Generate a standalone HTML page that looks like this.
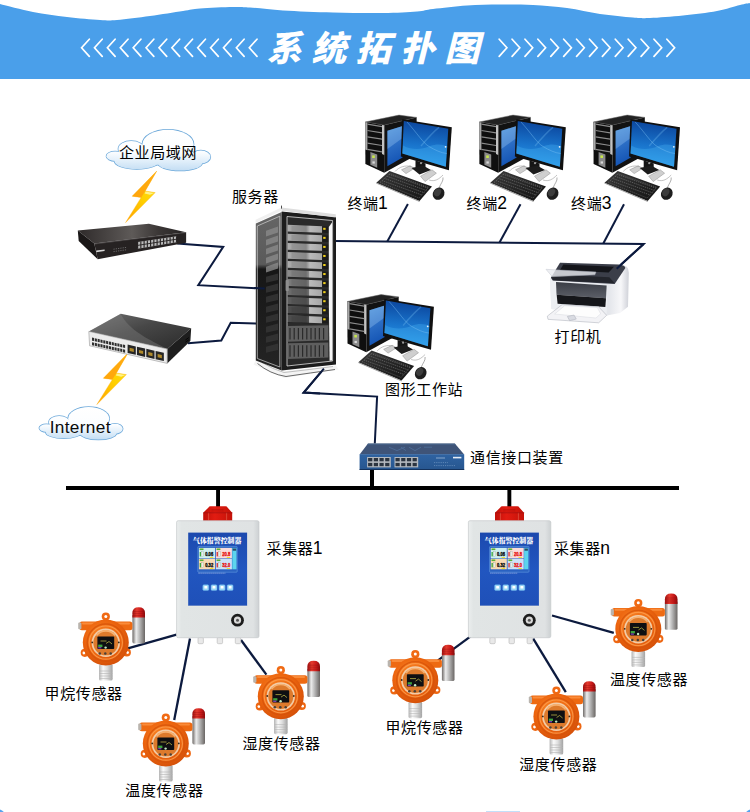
<!DOCTYPE html>
<html lang="zh-CN">
<head>
<meta charset="utf-8">
<title>系统拓扑图</title>
<style>
html,body{margin:0;padding:0;background:#fff;}
body{width:750px;height:812px;overflow:hidden;position:relative;font-family:"Liberation Sans","Noto Sans CJK SC",sans-serif;}
svg{position:absolute;left:0;top:0;display:block;}
text{font-family:"Liberation Sans","Noto Sans CJK SC",sans-serif;}
.lb{font-size:15px;fill:#000;font-weight:400;letter-spacing:0.65px;}
.ttl{font-size:35px;font-weight:900;font-style:italic;fill:#fff;letter-spacing:9.45px;}
</style>
</head>
<body>
<svg width="750" height="812" viewBox="0 0 750 812">
<defs>


<linearGradient id="gBolt" x1="1" y1="0" x2="0" y2="1">
  <stop offset="0" stop-color="#ffe21a"/><stop offset="0.5" stop-color="#ffd000"/><stop offset="1" stop-color="#ffa000"/>
</linearGradient>
<linearGradient id="gCloudL" gradientUnits="userSpaceOnUse" x1="0" y1="0" x2="0" y2="41">
  <stop offset="0" stop-color="#ffffff"/><stop offset="0.55" stop-color="#fbfdff"/><stop offset="0.8" stop-color="#dcecf9"/><stop offset="1" stop-color="#c3ddf3"/>
</linearGradient>
<radialGradient id="gCloud" cx="0.5" cy="0.45" r="0.65">
  <stop offset="0" stop-color="#ffffff"/><stop offset="0.6" stop-color="#f2f8fd"/><stop offset="1" stop-color="#c6def3"/>
</radialGradient>
<linearGradient id="gScreen" x1="0.1" y1="0" x2="0" y2="1">
  <stop offset="0" stop-color="#0c479e"/><stop offset="0.5" stop-color="#1974cc"/><stop offset="1" stop-color="#2ba0ee"/>
</linearGradient>
<linearGradient id="gWin" x1="0" y1="0" x2="0.2" y2="1">
  <stop offset="0" stop-color="#4a92dc"/><stop offset="0.55" stop-color="#2a6cc4"/><stop offset="1" stop-color="#1454b4"/>
</linearGradient>
<linearGradient id="gMetal" x1="0" y1="0" x2="1" y2="0">
  <stop offset="0" stop-color="#6e6a68"/><stop offset="0.3" stop-color="#ececec"/><stop offset="0.55" stop-color="#bdbdbd"/><stop offset="1" stop-color="#6a6664"/>
</linearGradient>
<linearGradient id="gMetalL" x1="0" y1="0" x2="1" y2="0">
  <stop offset="0" stop-color="#b5b5b5"/><stop offset="0.3" stop-color="#fafafa"/><stop offset="0.6" stop-color="#dedede"/><stop offset="1" stop-color="#a2a2a2"/>
</linearGradient>
<linearGradient id="gRedDome" x1="0" y1="0" x2="1" y2="0">
  <stop offset="0" stop-color="#a01010"/><stop offset="0.35" stop-color="#e43a2e"/><stop offset="0.7" stop-color="#c81a1a"/><stop offset="1" stop-color="#8a0c0c"/>
</linearGradient>
<radialGradient id="gOrange" cx="0.42" cy="0.38" r="0.7">
  <stop offset="0" stop-color="#fb8c2c"/><stop offset="0.55" stop-color="#ec640e"/><stop offset="1" stop-color="#cf4c08"/>
</radialGradient>
<linearGradient id="gBox" x1="0" y1="0" x2="1" y2="0">
  <stop offset="0" stop-color="#ebeeee"/><stop offset="0.06" stop-color="#e1e5e5"/><stop offset="0.93" stop-color="#dfe2e3"/><stop offset="1" stop-color="#cdd1d3"/>
</linearGradient>
<linearGradient id="gPanel" x1="0" y1="0" x2="0" y2="1">
  <stop offset="0" stop-color="#1c49ae"/><stop offset="0.5" stop-color="#2156c0"/><stop offset="1" stop-color="#1f50b8"/>
</linearGradient>
<linearGradient id="gRedCap" x1="0" y1="0" x2="1" y2="0">
  <stop offset="0" stop-color="#c01008"/><stop offset="0.4" stop-color="#e21c12"/><stop offset="1" stop-color="#c41208"/>
</linearGradient>
<linearGradient id="gSw1Top" x1="0" y1="0" x2="1" y2="0">
  <stop offset="0" stop-color="#2e2a2a"/><stop offset="0.5" stop-color="#5e5a58"/><stop offset="0.75" stop-color="#3a3635"/><stop offset="1" stop-color="#262323"/>
</linearGradient>
<linearGradient id="gSw2Top" x1="0" y1="0" x2="1" y2="1">
  <stop offset="0" stop-color="#6e6e6e"/><stop offset="0.45" stop-color="#474747"/><stop offset="1" stop-color="#2a2a2a"/>
</linearGradient>
<linearGradient id="gUnit" x1="0" y1="0" x2="1" y2="0">
  <stop offset="0" stop-color="#adadad"/><stop offset="0.45" stop-color="#858585"/><stop offset="0.55" stop-color="#bababa"/><stop offset="0.85" stop-color="#a6a6a6"/><stop offset="0.86" stop-color="#1c1c1c"/><stop offset="1" stop-color="#1c1c1c"/>
</linearGradient>
<linearGradient id="gSide" x1="0" y1="0" x2="0" y2="1">
  <stop offset="0" stop-color="#666"/><stop offset="0.33" stop-color="#5a5a5a"/><stop offset="0.36" stop-color="#161616"/><stop offset="1" stop-color="#242424"/>
</linearGradient>
<linearGradient id="gComm" x1="0" y1="0" x2="0" y2="1">
  <stop offset="0" stop-color="#2f63a2"/><stop offset="1" stop-color="#27568f"/>
</linearGradient>
<linearGradient id="gPrBody" x1="0" y1="0" x2="1" y2="0">
  <stop offset="0" stop-color="#e9ebef"/><stop offset="0.75" stop-color="#e4e6eb"/><stop offset="0.9" stop-color="#f7f7f9"/><stop offset="1" stop-color="#cfd1d8"/>
</linearGradient>
<linearGradient id="gPrPanel" x1="0" y1="0" x2="0" y2="1">
  <stop offset="0" stop-color="#3a3d45"/><stop offset="1" stop-color="#5c5f68"/>
</linearGradient>
<linearGradient id="gKb" x1="0" y1="0" x2="1" y2="1">
  <stop offset="0" stop-color="#3a3a3a"/><stop offset="1" stop-color="#111"/>
</linearGradient>
</defs>

<path d="M0.00,4.00 C5.50,5.33 21.83,9.83 33.00,12.00 C44.17,14.17 55.83,15.67 67.00,17.00 C78.17,18.33 91.67,19.50 100.00,20.00 C108.33,20.50 108.67,20.67 117.00,20.00 C125.33,19.33 139.00,17.50 150.00,16.00 C161.00,14.50 174.67,12.25 183.00,11.00 C191.33,9.75 191.67,9.17 200.00,8.50 C208.33,7.83 224.67,7.17 233.00,7.00 C241.33,6.83 241.67,6.92 250.00,7.50 C258.33,8.08 269.17,9.67 283.00,10.50 C296.83,11.33 316.33,12.08 333.00,12.50 C349.67,12.92 369.00,13.17 383.00,13.00 C397.00,12.83 408.67,12.17 417.00,11.50 C425.33,10.83 424.67,10.00 433.00,9.00 C441.33,8.00 455.83,6.25 467.00,5.50 C478.17,4.75 489.00,4.58 500.00,4.50 C511.00,4.42 521.83,4.42 533.00,5.00 C544.17,5.58 555.83,6.50 567.00,8.00 C578.17,9.50 589.00,12.42 600.00,14.00 C611.00,15.58 624.67,16.83 633.00,17.50 C641.33,18.17 641.67,18.33 650.00,18.00 C658.33,17.67 671.83,16.67 683.00,15.50 C694.17,14.33 707.50,12.75 717.00,11.00 C726.50,9.25 734.50,6.33 740.00,5.00 C745.50,3.67 748.33,3.33 750.00,3.00 L750,79 L0,79 Z" fill="#4a9fea"/>
<path d="M89.30,39.2 L81.60,47.8 L89.30,56.4 M102.20,39.2 L94.50,47.8 L102.20,56.4 M115.10,39.2 L107.40,47.8 L115.10,56.4 M128.00,39.2 L120.30,47.8 L128.00,56.4 M140.90,39.2 L133.20,47.8 L140.90,56.4 M153.80,39.2 L146.10,47.8 L153.80,56.4 M166.70,39.2 L159.00,47.8 L166.70,56.4 M179.60,39.2 L171.90,47.8 L179.60,56.4 M192.50,39.2 L184.80,47.8 L192.50,56.4 M205.40,39.2 L197.70,47.8 L205.40,56.4 M218.30,39.2 L210.60,47.8 L218.30,56.4 M231.20,39.2 L223.50,47.8 L231.20,56.4 M244.10,39.2 L236.40,47.8 L244.10,56.4 M257.00,39.2 L249.30,47.8 L257.00,56.4" fill="none" stroke="#fff" stroke-width="1.7" stroke-linecap="round" stroke-linejoin="miter"/>
<path d="M499.20,39.2 L506.90,47.8 L499.20,56.4 M512.10,39.2 L519.80,47.8 L512.10,56.4 M525.00,39.2 L532.70,47.8 L525.00,56.4 M537.90,39.2 L545.60,47.8 L537.90,56.4 M550.80,39.2 L558.50,47.8 L550.80,56.4 M563.70,39.2 L571.40,47.8 L563.70,56.4 M576.60,39.2 L584.30,47.8 L576.60,56.4 M589.50,39.2 L597.20,47.8 L589.50,56.4 M602.40,39.2 L610.10,47.8 L602.40,56.4 M615.30,39.2 L623.00,47.8 L615.30,56.4 M628.20,39.2 L635.90,47.8 L628.20,56.4 M641.10,39.2 L648.80,47.8 L641.10,56.4 M654.00,39.2 L661.70,47.8 L654.00,56.4 M666.90,39.2 L674.60,47.8 L666.90,56.4" fill="none" stroke="#fff" stroke-width="1.7" stroke-linecap="round" stroke-linejoin="miter"/>
<text class="ttl" x="266.7" y="61">系统拓扑图</text>
<polyline points="177.30,243.60 223.20,246.90 198.30,285.20 265.00,288.60" fill="none" stroke="#0c1a3e" stroke-width="2.0" stroke-linejoin="miter" stroke-linecap="butt"/>
<polyline points="188.00,343.20 221.30,340.50 230.70,322.70 257.00,323.60" fill="none" stroke="#0c1a3e" stroke-width="2.0" stroke-linejoin="miter" stroke-linecap="butt"/>
<polyline points="334.00,241.00 643.70,243.90 617.10,268.00" fill="none" stroke="#0c1a3e" stroke-width="2.0" stroke-linejoin="miter" stroke-linecap="butt"/>
<polyline points="407.90,204.00 387.30,241.50" fill="none" stroke="#0c1a3e" stroke-width="2.0" stroke-linejoin="miter" stroke-linecap="butt"/>
<polyline points="520.50,204.30 499.50,242.50" fill="none" stroke="#0c1a3e" stroke-width="2.0" stroke-linejoin="miter" stroke-linecap="butt"/>
<polyline points="624.00,204.30 603.30,243.50" fill="none" stroke="#0c1a3e" stroke-width="2.0" stroke-linejoin="miter" stroke-linecap="butt"/>
<polyline points="323.90,368.60 303.70,392.60 377.10,396.60 374.80,443.50" fill="none" stroke="#0c1a3e" stroke-width="2.0" stroke-linejoin="miter" stroke-linecap="butt"/>
<rect x="66" y="486" width="613" height="4" fill="#000"/>
<rect x="370" y="470" width="4" height="18" fill="#000"/>
<rect x="216.1" y="488" width="3.9" height="20" fill="#000"/>
<rect x="507.4" y="488" width="3.9" height="20" fill="#000"/>
<polyline points="176.50,634.60 127.00,648.70" fill="none" stroke="#0c1a3e" stroke-width="2.3" stroke-linejoin="miter" stroke-linecap="butt"/>
<polyline points="190.00,638.50 174.20,720.00" fill="none" stroke="#0c1a3e" stroke-width="2.3" stroke-linejoin="miter" stroke-linecap="butt"/>
<polyline points="241.00,640.00 266.40,674.60" fill="none" stroke="#0c1a3e" stroke-width="2.3" stroke-linejoin="miter" stroke-linecap="butt"/>
<polyline points="470.60,636.40 438.00,660.40" fill="none" stroke="#0c1a3e" stroke-width="2.3" stroke-linejoin="miter" stroke-linecap="butt"/>
<polyline points="533.20,638.70 565.80,692.20" fill="none" stroke="#0c1a3e" stroke-width="2.3" stroke-linejoin="miter" stroke-linecap="butt"/>
<polyline points="552.00,615.50 613.80,632.90" fill="none" stroke="#0c1a3e" stroke-width="2.3" stroke-linejoin="miter" stroke-linecap="butt"/>
<g transform="translate(106.40,129.80) scale(1.000,1.000)"><ellipse cx="61.60" cy="14.40" rx="25.60" ry="14.40" fill="#d5e8f7" stroke="#6da9da" stroke-width="1.5" vector-effect="non-scaling-stroke"/><ellipse cx="24.80" cy="19.20" rx="12.80" ry="8.00" fill="#d5e8f7" stroke="#6da9da" stroke-width="1.5" vector-effect="non-scaling-stroke"/><ellipse cx="8.80" cy="26.40" rx="8.80" ry="4.80" fill="#d5e8f7" stroke="#6da9da" stroke-width="1.5" vector-effect="non-scaling-stroke"/><ellipse cx="94.40" cy="27.20" rx="9.60" ry="6.40" fill="#d5e8f7" stroke="#6da9da" stroke-width="1.5" vector-effect="non-scaling-stroke"/><ellipse cx="30.40" cy="31.20" rx="22.40" ry="8.00" fill="#d5e8f7" stroke="#6da9da" stroke-width="1.5" vector-effect="non-scaling-stroke"/><ellipse cx="73.60" cy="32.80" rx="22.40" ry="8.00" fill="#d5e8f7" stroke="#6da9da" stroke-width="1.5" vector-effect="non-scaling-stroke"/><ellipse cx="52.00" cy="25.00" rx="36.00" ry="10.00" fill="#d5e8f7" stroke="#6da9da" stroke-width="1.5" vector-effect="non-scaling-stroke"/><ellipse cx="61.60" cy="14.40" rx="25.60" ry="14.40" fill="url(#gCloudL)"/><ellipse cx="24.80" cy="19.20" rx="12.80" ry="8.00" fill="url(#gCloudL)"/><ellipse cx="8.80" cy="26.40" rx="8.80" ry="4.80" fill="url(#gCloudL)"/><ellipse cx="94.40" cy="27.20" rx="9.60" ry="6.40" fill="url(#gCloudL)"/><ellipse cx="30.40" cy="31.20" rx="22.40" ry="8.00" fill="url(#gCloudL)"/><ellipse cx="73.60" cy="32.80" rx="22.40" ry="8.00" fill="url(#gCloudL)"/><ellipse cx="52.00" cy="25.00" rx="36.00" ry="10.00" fill="url(#gCloudL)"/></g>
<g transform="translate(39.30,407.10) scale(0.802,0.795)"><ellipse cx="61.60" cy="14.40" rx="25.60" ry="14.40" fill="#d5e8f7" stroke="#6da9da" stroke-width="1.5" vector-effect="non-scaling-stroke"/><ellipse cx="24.80" cy="19.20" rx="12.80" ry="8.00" fill="#d5e8f7" stroke="#6da9da" stroke-width="1.5" vector-effect="non-scaling-stroke"/><ellipse cx="8.80" cy="26.40" rx="8.80" ry="4.80" fill="#d5e8f7" stroke="#6da9da" stroke-width="1.5" vector-effect="non-scaling-stroke"/><ellipse cx="94.40" cy="27.20" rx="9.60" ry="6.40" fill="#d5e8f7" stroke="#6da9da" stroke-width="1.5" vector-effect="non-scaling-stroke"/><ellipse cx="30.40" cy="31.20" rx="22.40" ry="8.00" fill="#d5e8f7" stroke="#6da9da" stroke-width="1.5" vector-effect="non-scaling-stroke"/><ellipse cx="73.60" cy="32.80" rx="22.40" ry="8.00" fill="#d5e8f7" stroke="#6da9da" stroke-width="1.5" vector-effect="non-scaling-stroke"/><ellipse cx="52.00" cy="25.00" rx="36.00" ry="10.00" fill="#d5e8f7" stroke="#6da9da" stroke-width="1.5" vector-effect="non-scaling-stroke"/><ellipse cx="61.60" cy="14.40" rx="25.60" ry="14.40" fill="url(#gCloudL)"/><ellipse cx="24.80" cy="19.20" rx="12.80" ry="8.00" fill="url(#gCloudL)"/><ellipse cx="8.80" cy="26.40" rx="8.80" ry="4.80" fill="url(#gCloudL)"/><ellipse cx="94.40" cy="27.20" rx="9.60" ry="6.40" fill="url(#gCloudL)"/><ellipse cx="30.40" cy="31.20" rx="22.40" ry="8.00" fill="url(#gCloudL)"/><ellipse cx="73.60" cy="32.80" rx="22.40" ry="8.00" fill="url(#gCloudL)"/><ellipse cx="52.00" cy="25.00" rx="36.00" ry="10.00" fill="url(#gCloudL)"/></g>
<polygon points="156.80,171.00 145.20,191.00 155.20,192.60 125.60,222.60 141.20,197.40 132.20,196.20" fill="url(#gBolt)" stroke="#ffb21a" stroke-width="0.4"/>
<polygon points="156.80,171.00 145.20,191.00 141.20,197.40 132.20,196.20" fill="#ff9a10" opacity="0.75"/>
<polygon points="145.60,191.60 154.00,193.00 150.00,194.80 144.60,193.40" fill="#fff7a0" opacity="0.85"/>
<polygon points="128.00,353.00 116.40,373.00 126.40,374.60 96.80,404.60 112.40,379.40 103.40,378.20" fill="url(#gBolt)" stroke="#ffb21a" stroke-width="0.4"/>
<polygon points="128.00,353.00 116.40,373.00 112.40,379.40 103.40,378.20" fill="#ff9a10" opacity="0.75"/>
<polygon points="116.80,373.60 125.20,375.00 121.20,376.80 115.80,375.40" fill="#fff7a0" opacity="0.85"/>
<g>
<polygon points="77.80,230.60 148.90,223.70 186.10,232.30 94.30,243.60" fill="url(#gSw1Top)"/>
<polygon points="77.80,230.60 94.30,243.60 97.70,259.20 78.70,241.00" fill="#1a1717"/>
<polygon points="94.30,243.60 186.10,232.30 186.10,242.70 97.70,259.20" fill="#262222"/>
<polygon points="94.30,243.60 186.10,232.30 186.10,233.10 94.50,244.50" fill="#6a6666" opacity="0.5"/>
<polygon points="137.60,242.00 176.60,236.20 176.60,242.30 137.60,248.80" fill="#b9b9b9"/>
<line x1="137.60" y1="242.00" x2="137.60" y2="248.80" stroke="#262222" stroke-width="1.1"/>
<line x1="140.85" y1="241.52" x2="140.85" y2="248.26" stroke="#262222" stroke-width="1.1"/>
<line x1="144.10" y1="241.03" x2="144.10" y2="247.72" stroke="#262222" stroke-width="1.1"/>
<line x1="147.35" y1="240.55" x2="147.35" y2="247.18" stroke="#262222" stroke-width="1.1"/>
<line x1="150.60" y1="240.07" x2="150.60" y2="246.63" stroke="#262222" stroke-width="1.1"/>
<line x1="153.85" y1="239.58" x2="153.85" y2="246.09" stroke="#262222" stroke-width="1.1"/>
<line x1="157.10" y1="239.10" x2="157.10" y2="245.55" stroke="#262222" stroke-width="1.1"/>
<line x1="160.35" y1="238.62" x2="160.35" y2="245.01" stroke="#262222" stroke-width="1.1"/>
<line x1="163.60" y1="238.13" x2="163.60" y2="244.47" stroke="#262222" stroke-width="1.1"/>
<line x1="166.85" y1="237.65" x2="166.85" y2="243.93" stroke="#262222" stroke-width="1.1"/>
<line x1="170.10" y1="237.17" x2="170.10" y2="243.38" stroke="#262222" stroke-width="1.1"/>
<line x1="173.35" y1="236.68" x2="173.35" y2="242.84" stroke="#262222" stroke-width="1.1"/>
<line x1="176.60" y1="236.20" x2="176.60" y2="242.30" stroke="#262222" stroke-width="1.1"/>
<line x1="137.6" y1="245.4" x2="176.6" y2="239.2" stroke="#262222" stroke-width="0.9"/>
<polygon points="96.20,250.60 104.60,249.40 104.60,251.00 96.20,252.30" fill="#d8d8d8"/>
<path d="M113.5,249.2 L127,247.3 M113.5,251.6 L127,249.7" stroke="#777" stroke-width="0.8" stroke-dasharray="1.2 1.1"/>
</g>
<g>
<polygon points="88.80,331.40 120.80,313.80 191.20,328.20 167.20,349.00" fill="url(#gSw2Top)"/>
<path d="M88.8,331.4 L120.8,313.8 C128,330 150,340 167.2,349 Z" fill="#8a8a8a" opacity="0.35"/>
<polygon points="167.20,349.00 191.20,328.20 190.40,341.00 167.20,363.40" fill="#1e1e1e"/>
<polygon points="88.80,331.40 167.20,349.00 167.20,363.40 89.60,345.80" fill="#ebebeb" stroke="#9a9a9a" stroke-width="0.6"/>
<polygon points="92.00,337.60 94.10,338.07 94.10,341.10 92.00,340.63" fill="#2e2e2e"/>
<polygon points="94.82,338.23 96.92,338.70 96.92,341.73 94.82,341.26" fill="#2e2e2e"/>
<polygon points="97.64,338.87 99.74,339.34 99.74,342.37 97.64,341.90" fill="#2e2e2e"/>
<polygon points="100.46,339.50 102.56,339.97 102.56,343.00 100.46,342.53" fill="#2e2e2e"/>
<polygon points="103.28,340.13 105.38,340.60 105.38,343.63 103.28,343.16" fill="#2e2e2e"/>
<polygon points="106.10,340.77 108.20,341.24 108.20,344.27 106.10,343.80" fill="#2e2e2e"/>
<polygon points="108.92,341.40 111.02,341.87 111.02,344.90 108.92,344.43" fill="#2e2e2e"/>
<polygon points="111.74,342.03 113.84,342.50 113.84,345.53 111.74,345.06" fill="#2e2e2e"/>
<polygon points="114.56,342.66 116.66,343.13 116.66,346.16 114.56,345.69" fill="#2e2e2e"/>
<polygon points="117.38,343.30 119.48,343.77 119.48,346.80 117.38,346.33" fill="#2e2e2e"/>
<polygon points="120.20,343.93 122.30,344.40 122.30,347.43 120.20,346.96" fill="#2e2e2e"/>
<polygon points="123.02,344.56 125.12,345.03 125.12,348.06 123.02,347.59" fill="#2e2e2e"/>
<polygon points="92.00,342.20 94.10,342.67 94.10,345.70 92.00,345.23" fill="#2e2e2e"/>
<polygon points="94.82,342.83 96.92,343.30 96.92,346.33 94.82,345.86" fill="#2e2e2e"/>
<polygon points="97.64,343.47 99.74,343.94 99.74,346.97 97.64,346.50" fill="#2e2e2e"/>
<polygon points="100.46,344.10 102.56,344.57 102.56,347.60 100.46,347.13" fill="#2e2e2e"/>
<polygon points="103.28,344.73 105.38,345.20 105.38,348.23 103.28,347.76" fill="#2e2e2e"/>
<polygon points="106.10,345.37 108.20,345.84 108.20,348.87 106.10,348.40" fill="#2e2e2e"/>
<polygon points="108.92,346.00 111.02,346.47 111.02,349.50 108.92,349.03" fill="#2e2e2e"/>
<polygon points="111.74,346.63 113.84,347.10 113.84,350.13 111.74,349.66" fill="#2e2e2e"/>
<polygon points="114.56,347.26 116.66,347.73 116.66,350.76 114.56,350.29" fill="#2e2e2e"/>
<polygon points="117.38,347.90 119.48,348.37 119.48,351.40 117.38,350.93" fill="#2e2e2e"/>
<polygon points="120.20,348.53 122.30,349.00 122.30,352.03 120.20,351.56" fill="#2e2e2e"/>
<polygon points="123.02,349.16 125.12,349.63 125.12,352.66 123.02,352.19" fill="#2e2e2e"/>
<polygon points="127.60,344.60 135.80,346.45 135.80,354.80 127.60,352.90" fill="#262626"/>
<polygon points="129.60,347.80 133.80,348.80 133.80,352.00 129.60,351.00" fill="#b08a2a"/>
<polygon points="136.95,346.70 145.15,348.55 145.15,356.90 136.95,355.00" fill="#262626"/>
<polygon points="138.95,349.90 143.15,350.90 143.15,354.10 138.95,353.10" fill="#b08a2a"/>
<polygon points="146.30,348.80 154.50,350.65 154.50,359.00 146.30,357.10" fill="#262626"/>
<polygon points="148.30,352.00 152.50,353.00 152.50,356.20 148.30,355.20" fill="#b08a2a"/>
<polygon points="155.65,350.90 163.85,352.75 163.85,361.10 155.65,359.20" fill="#262626"/>
<polygon points="157.65,354.10 161.85,355.10 161.85,358.30 157.65,357.30" fill="#b08a2a"/>
<path d="M185.4,340 l3.4,-2.4 M185.4,342.2 l3.4,-2.4" stroke="#000" stroke-width="0.8"/>
</g>
<g>
<polygon points="256.00,360.00 282.00,371.50 336.00,365.50 338.50,369.50 284.00,378.00 253.50,364.50" fill="#f4f4f4"/>
<path d="M257.5,363.5 Q270,374 286,376.5 Q310,373 335,369.5" fill="none" stroke="#3a3a3a" stroke-width="1" opacity="0.75"/>
<path d="M262,362.5 Q272,369 284,372.5 Q310,369.5 333,366.5" fill="none" stroke="#9a9a9a" stroke-width="0.6"/>
<polygon points="255.80,223.50 281.70,212.00 281.70,370.50 255.80,360.50" fill="url(#gSide)"/>
<polygon points="257.30,226.00 279.80,216.20 279.80,367.00 257.30,358.50" fill="none" stroke="#d2d2d2" stroke-width="0.7"/>
<polygon points="266.00,230.80 278.00,226.50 278.00,232.50 266.00,236.40" fill="#8a8a8a" opacity="0.8"/>
<polygon points="266.00,239.80 278.00,235.50 278.00,241.50 266.00,245.40" fill="#8a8a8a" opacity="0.8"/>
<polygon points="266.00,248.80 278.00,244.50 278.00,250.50 266.00,254.40" fill="#8a8a8a" opacity="0.8"/>
<polygon points="266.00,257.80 278.00,253.50 278.00,259.50 266.00,263.40" fill="#8a8a8a" opacity="0.8"/>
<polygon points="266.00,266.80 278.00,262.50 278.00,268.50 266.00,272.40" fill="#8a8a8a" opacity="0.8"/>
<polygon points="266.00,276.80 278.00,273.50 278.00,280.00 266.00,282.80" fill="#333" opacity="0.9"/>
<polygon points="266.00,286.80 278.00,283.50 278.00,290.00 266.00,292.80" fill="#333" opacity="0.9"/>
<polygon points="266.00,296.80 278.00,293.50 278.00,300.00 266.00,302.80" fill="#333" opacity="0.9"/>
<polygon points="266.00,306.80 278.00,303.50 278.00,310.00 266.00,312.80" fill="#333" opacity="0.9"/>
<polygon points="266.00,316.80 278.00,313.50 278.00,320.00 266.00,322.80" fill="#333" opacity="0.9"/>
<polygon points="266.00,326.80 278.00,323.50 278.00,330.00 266.00,332.80" fill="#333" opacity="0.9"/>
<polygon points="266.00,336.80 278.00,333.50 278.00,340.00 266.00,342.80" fill="#333" opacity="0.9"/>
<polygon points="266.00,346.80 278.00,343.50 278.00,350.00 266.00,352.80" fill="#333" opacity="0.9"/>
<polygon points="281.70,211.50 336.00,217.00 336.00,364.50 281.70,370.50" fill="#1c1c1c"/>
<polygon points="287.00,216.50 332.60,220.50 332.60,361.00 287.00,366.00" fill="#2a2a2a" stroke="#dcdcdc" stroke-width="0.8"/>
<polygon points="328.80,227.00 332.00,222.50 332.00,360.50 329.60,360.80 328.80,300.00" fill="#f6f6f6"/>
<polygon points="287.60,224.80 328.20,226.40 328.20,233.00 287.60,231.60" fill="url(#gUnit)"/>
<polygon points="291.50,225.80 306.00,226.40 306.00,231.80 291.50,231.20" fill="#8a8a8a" opacity="0.55"/>
<rect x="323.2" y="227.80" width="2.4" height="2" fill="#f2d21c"/>
<polygon points="287.60,233.85 328.20,235.45 328.20,242.05 287.60,240.65" fill="url(#gUnit)"/>
<polygon points="291.50,234.85 306.00,235.45 306.00,240.85 291.50,240.25" fill="#8a8a8a" opacity="0.55"/>
<rect x="323.2" y="236.85" width="2.4" height="2" fill="#f2d21c"/>
<polygon points="287.60,242.90 328.20,244.50 328.20,251.10 287.60,249.70" fill="url(#gUnit)"/>
<polygon points="291.50,243.90 306.00,244.50 306.00,249.90 291.50,249.30" fill="#8a8a8a" opacity="0.55"/>
<rect x="323.2" y="245.90" width="2.4" height="2" fill="#f2d21c"/>
<polygon points="287.60,251.95 328.20,253.55 328.20,260.15 287.60,258.75" fill="url(#gUnit)"/>
<polygon points="291.50,252.95 306.00,253.55 306.00,258.95 291.50,258.35" fill="#8a8a8a" opacity="0.55"/>
<rect x="323.2" y="254.95" width="2.4" height="2" fill="#f2d21c"/>
<polygon points="287.60,261.00 328.20,262.60 328.20,269.20 287.60,267.80" fill="url(#gUnit)"/>
<polygon points="291.50,262.00 306.00,262.60 306.00,268.00 291.50,267.40" fill="#8a8a8a" opacity="0.55"/>
<rect x="323.2" y="264.00" width="2.4" height="2" fill="#f2d21c"/>
<polygon points="287.60,270.05 328.20,271.65 328.20,278.25 287.60,276.85" fill="url(#gUnit)"/>
<polygon points="291.50,271.05 306.00,271.65 306.00,277.05 291.50,276.45" fill="#8a8a8a" opacity="0.55"/>
<polygon points="287.80,270.05 309.00,270.85 309.00,277.95 287.80,277.25" fill="#111" opacity="0.20"/>
<rect x="323.2" y="273.05" width="2.4" height="2" fill="#f2d21c"/>
<polygon points="287.60,279.10 328.20,280.70 328.20,287.30 287.60,285.90" fill="url(#gUnit)"/>
<polygon points="291.50,280.10 306.00,280.70 306.00,286.10 291.50,285.50" fill="#8a8a8a" opacity="0.55"/>
<polygon points="287.80,279.10 309.00,279.90 309.00,287.00 287.80,286.30" fill="#111" opacity="0.30"/>
<rect x="323.2" y="282.10" width="2.4" height="2" fill="#f2d21c"/>
<polygon points="287.60,288.15 328.20,289.75 328.20,296.35 287.60,294.95" fill="url(#gUnit)"/>
<polygon points="291.50,289.15 306.00,289.75 306.00,295.15 291.50,294.55" fill="#8a8a8a" opacity="0.55"/>
<polygon points="287.80,288.15 309.00,288.95 309.00,296.05 287.80,295.35" fill="#111" opacity="0.40"/>
<rect x="323.2" y="291.15" width="2.4" height="2" fill="#f2d21c"/>
<polygon points="287.60,297.20 328.20,298.80 328.20,305.40 287.60,304.00" fill="url(#gUnit)"/>
<polygon points="291.50,298.20 306.00,298.80 306.00,304.20 291.50,303.60" fill="#8a8a8a" opacity="0.55"/>
<polygon points="287.80,297.20 309.00,298.00 309.00,305.10 287.80,304.40" fill="#111" opacity="0.50"/>
<rect x="323.2" y="300.20" width="2.4" height="2" fill="#f2d21c"/>
<polygon points="287.60,306.25 328.20,307.85 328.20,314.45 287.60,313.05" fill="url(#gUnit)"/>
<polygon points="291.50,307.25 306.00,307.85 306.00,313.25 291.50,312.65" fill="#8a8a8a" opacity="0.55"/>
<polygon points="287.80,306.25 309.00,307.05 309.00,314.15 287.80,313.45" fill="#111" opacity="0.60"/>
<rect x="323.2" y="309.25" width="2.4" height="2" fill="#f2d21c"/>
<polygon points="287.60,315.30 328.20,316.90 328.20,323.50 287.60,322.10" fill="url(#gUnit)"/>
<polygon points="291.50,316.30 306.00,316.90 306.00,322.30 291.50,321.70" fill="#8a8a8a" opacity="0.55"/>
<polygon points="287.80,315.30 309.00,316.10 309.00,323.20 287.80,322.50" fill="#111" opacity="0.60"/>
<rect x="323.2" y="318.30" width="2.4" height="2" fill="#f2d21c"/>
<polygon points="287.80,326.00 328.30,325.20 328.30,340.20 287.80,341.80" fill="#5f5f5f"/>
<line x1="290.00" y1="328.00" x2="290.00" y2="339.50" stroke="#2a2a2a" stroke-width="1.2"/>
<line x1="294.20" y1="328.00" x2="294.20" y2="339.50" stroke="#2a2a2a" stroke-width="1.2"/>
<line x1="298.40" y1="328.00" x2="298.40" y2="339.50" stroke="#2a2a2a" stroke-width="1.2"/>
<line x1="302.60" y1="328.00" x2="302.60" y2="339.50" stroke="#2a2a2a" stroke-width="1.2"/>
<line x1="306.80" y1="328.00" x2="306.80" y2="339.50" stroke="#2a2a2a" stroke-width="1.2"/>
<line x1="311.00" y1="328.00" x2="311.00" y2="339.50" stroke="#2a2a2a" stroke-width="1.2"/>
<line x1="315.20" y1="328.00" x2="315.20" y2="339.50" stroke="#2a2a2a" stroke-width="1.2"/>
<line x1="319.40" y1="328.00" x2="319.40" y2="339.50" stroke="#2a2a2a" stroke-width="1.2"/>
<line x1="323.60" y1="328.00" x2="323.60" y2="339.50" stroke="#2a2a2a" stroke-width="1.2"/>
<polygon points="287.80,343.20 328.30,342.40 328.30,357.40 287.80,359.00" fill="#5f5f5f"/>
<line x1="290.00" y1="345.20" x2="290.00" y2="356.70" stroke="#2a2a2a" stroke-width="1.2"/>
<line x1="294.20" y1="345.20" x2="294.20" y2="356.70" stroke="#2a2a2a" stroke-width="1.2"/>
<line x1="298.40" y1="345.20" x2="298.40" y2="356.70" stroke="#2a2a2a" stroke-width="1.2"/>
<line x1="302.60" y1="345.20" x2="302.60" y2="356.70" stroke="#2a2a2a" stroke-width="1.2"/>
<line x1="306.80" y1="345.20" x2="306.80" y2="356.70" stroke="#2a2a2a" stroke-width="1.2"/>
<line x1="311.00" y1="345.20" x2="311.00" y2="356.70" stroke="#2a2a2a" stroke-width="1.2"/>
<line x1="315.20" y1="345.20" x2="315.20" y2="356.70" stroke="#2a2a2a" stroke-width="1.2"/>
<line x1="319.40" y1="345.20" x2="319.40" y2="356.70" stroke="#2a2a2a" stroke-width="1.2"/>
<line x1="323.60" y1="345.20" x2="323.60" y2="356.70" stroke="#2a2a2a" stroke-width="1.2"/>
<rect x="285.6" y="280" width="3.2" height="11" rx="0.8" fill="#8e8e8e"/>
<polygon points="281.40,207.40 335.80,214.20 335.80,217.40 281.40,210.80" fill="#dedede"/>
<polygon points="255.60,219.80 281.40,207.40 281.40,210.80 255.60,223.00" fill="#f0f0f0"/>
<rect x="281.2" y="205.6" width="0.8" height="3" fill="#222"/>
</g>
<polyline points="254.00,288.05 264.70,288.60" fill="none" stroke="#0c1a3e" stroke-width="2.0" stroke-linejoin="miter" stroke-linecap="butt"/>
<polyline points="323.90,368.60 303.70,392.60 320.00,393.50" fill="none" stroke="#0c1a3e" stroke-width="2.0" stroke-linejoin="miter" stroke-linecap="butt"/>
<g transform="translate(355.00,105.00)">
<polygon points="46.50,64.80 55.00,60.80 59.50,63.20 51.00,68.60" fill="#cfcfcf" stroke="#8e8e8e" stroke-width="0.5"/>
<polygon points="65.50,71.20 77.00,64.80 81.40,68.20 70.00,76.60" fill="#cfcfcf" stroke="#8e8e8e" stroke-width="0.5"/>
<path d="M40,66.5 C44,62 50,60 56,61.5 M74,75 C80,77 84,74 88,70" stroke="#9a9a9a" stroke-width="0.6" fill="none"/>
<polygon points="10.20,17.00 44.00,10.10 61.60,12.40 29.20,20.20" fill="#222"/>
<polygon points="10.20,17.00 44.00,10.10 61.60,12.40 29.20,20.20" fill="none" stroke="#6a6a6a" stroke-width="0.5"/>
<polygon points="29.20,20.20 61.60,12.40 61.60,50.00 29.20,67.80" fill="#121212"/>
<polygon points="32.40,25.80 47.60,21.00 47.60,52.40 32.40,61.20" fill="url(#gWin)"/>
<polygon points="32.40,25.80 47.60,21.00 47.60,33.00 32.40,44.00" fill="#9cc6f0" opacity="0.35"/>
<polygon points="10.20,17.00 29.20,20.20 29.20,67.80 10.40,59.00" fill="#0f0f0f"/>
<polygon points="10.20,17.00 12.40,17.40 12.40,45.20 10.20,44.40" fill="#a9a9a9"/>
<polygon points="27.00,19.90 29.20,20.20 29.20,50.00 27.00,49.00" fill="#c2c2c2"/>
<polygon points="12.40,18.60 27.00,21.00 27.00,22.20 12.40,19.80" fill="#8c8c8c"/>
<polygon points="12.40,24.90 27.00,27.30 27.00,28.50 12.40,26.10" fill="#8c8c8c"/>
<polygon points="12.40,31.20 27.00,33.60 27.00,34.80 12.40,32.40" fill="#8c8c8c"/>
<polygon points="12.40,37.50 27.00,39.90 27.00,41.10 12.40,38.70" fill="#8c8c8c"/>
<polygon points="12.40,43.80 27.00,46.20 27.00,47.40 12.40,45.00" fill="#8c8c8c"/>
<polygon points="15.40,47.00 22.20,49.40 22.20,62.80 15.40,59.80" fill="#8a8a8a"/>
<rect x="17.2" y="50.4" width="2.6" height="2.6" fill="#c6e64a"/>
<rect x="17.4" y="56.4" width="2.4" height="2.2" fill="#d8d8d8"/>
<polygon points="60.50,55.50 70.50,58.50 70.50,65.50 60.50,62.50" fill="#151515"/>
<polygon points="56.50,63.00 68.00,60.50 76.00,65.00 64.50,69.50" fill="#1c1c1c"/>
<polygon points="47.20,14.20 96.80,22.20 93.90,65.30 45.90,51.40" fill="#101010"/>
<polygon points="48.80,15.90 93.30,23.80 90.80,61.80 47.30,48.60" fill="url(#gScreen)"/>
<path d="M48,40.5 C58,46 68,44 74,41.5 C82,38.5 88,39.5 92.4,41.5 L90.8,61.8 L47.3,48.6 Z" fill="#49b2f4" opacity="0.33"/>
<path d="M52,17 C62,28 68,38 74,41.5 C80,45 86,48 91.8,48.5" stroke="#7cc4f6" stroke-width="0.7" fill="none" opacity="0.6"/>
<path d="M66,41 C72,34 78,27 84,22.4" stroke="#7cc4f6" stroke-width="1.4" fill="none" opacity="0.3"/>
<circle cx="90.6" cy="41.8" r="0.9" fill="#e8f6ff"/>
<circle cx="66" cy="58.2" r="1.1" fill="#9a9a9a"/>
<polygon points="21.30,77.70 34.50,66.00 77.00,81.40 64.50,96.10" fill="url(#gKb)"/>
<polygon points="25.00,77.30 35.00,68.50 73.50,82.30 64.00,93.00" fill="none" stroke="#6a6a6a" stroke-width="0.6" stroke-dasharray="1.2 0.9"/>
<path d="M27,75.6 L67,90 M29.4,73.4 L69.4,87.8 M31.8,71.2 L71.6,85.6 M34,69.2 L73.6,83.4" stroke="#777" stroke-width="0.7" stroke-dasharray="1.1 0.9" fill="none"/>
<polygon points="21.30,77.70 64.50,96.10 64.60,97.00 21.20,78.60" fill="#9a9a9a"/>
<path d="M84,83 C86,78 88.5,76 88,72.5" stroke="#8a8a8a" stroke-width="0.7" fill="none"/>
<ellipse cx="83.6" cy="88.7" rx="5.6" ry="6.4" transform="rotate(35 83.6 88.7)" fill="#1e1e1e"/>
<ellipse cx="82.6" cy="87.3" rx="3.2" ry="4.2" transform="rotate(35 82.6 87.3)" fill="#3c3c3c"/>
</g>
<g transform="translate(469.00,105.00)">
<polygon points="46.50,64.80 55.00,60.80 59.50,63.20 51.00,68.60" fill="#cfcfcf" stroke="#8e8e8e" stroke-width="0.5"/>
<polygon points="65.50,71.20 77.00,64.80 81.40,68.20 70.00,76.60" fill="#cfcfcf" stroke="#8e8e8e" stroke-width="0.5"/>
<path d="M40,66.5 C44,62 50,60 56,61.5 M74,75 C80,77 84,74 88,70" stroke="#9a9a9a" stroke-width="0.6" fill="none"/>
<polygon points="10.20,17.00 44.00,10.10 61.60,12.40 29.20,20.20" fill="#222"/>
<polygon points="10.20,17.00 44.00,10.10 61.60,12.40 29.20,20.20" fill="none" stroke="#6a6a6a" stroke-width="0.5"/>
<polygon points="29.20,20.20 61.60,12.40 61.60,50.00 29.20,67.80" fill="#121212"/>
<polygon points="32.40,25.80 47.60,21.00 47.60,52.40 32.40,61.20" fill="url(#gWin)"/>
<polygon points="32.40,25.80 47.60,21.00 47.60,33.00 32.40,44.00" fill="#9cc6f0" opacity="0.35"/>
<polygon points="10.20,17.00 29.20,20.20 29.20,67.80 10.40,59.00" fill="#0f0f0f"/>
<polygon points="10.20,17.00 12.40,17.40 12.40,45.20 10.20,44.40" fill="#a9a9a9"/>
<polygon points="27.00,19.90 29.20,20.20 29.20,50.00 27.00,49.00" fill="#c2c2c2"/>
<polygon points="12.40,18.60 27.00,21.00 27.00,22.20 12.40,19.80" fill="#8c8c8c"/>
<polygon points="12.40,24.90 27.00,27.30 27.00,28.50 12.40,26.10" fill="#8c8c8c"/>
<polygon points="12.40,31.20 27.00,33.60 27.00,34.80 12.40,32.40" fill="#8c8c8c"/>
<polygon points="12.40,37.50 27.00,39.90 27.00,41.10 12.40,38.70" fill="#8c8c8c"/>
<polygon points="12.40,43.80 27.00,46.20 27.00,47.40 12.40,45.00" fill="#8c8c8c"/>
<polygon points="15.40,47.00 22.20,49.40 22.20,62.80 15.40,59.80" fill="#8a8a8a"/>
<rect x="17.2" y="50.4" width="2.6" height="2.6" fill="#c6e64a"/>
<rect x="17.4" y="56.4" width="2.4" height="2.2" fill="#d8d8d8"/>
<polygon points="60.50,55.50 70.50,58.50 70.50,65.50 60.50,62.50" fill="#151515"/>
<polygon points="56.50,63.00 68.00,60.50 76.00,65.00 64.50,69.50" fill="#1c1c1c"/>
<polygon points="47.20,14.20 96.80,22.20 93.90,65.30 45.90,51.40" fill="#101010"/>
<polygon points="48.80,15.90 93.30,23.80 90.80,61.80 47.30,48.60" fill="url(#gScreen)"/>
<path d="M48,40.5 C58,46 68,44 74,41.5 C82,38.5 88,39.5 92.4,41.5 L90.8,61.8 L47.3,48.6 Z" fill="#49b2f4" opacity="0.33"/>
<path d="M52,17 C62,28 68,38 74,41.5 C80,45 86,48 91.8,48.5" stroke="#7cc4f6" stroke-width="0.7" fill="none" opacity="0.6"/>
<path d="M66,41 C72,34 78,27 84,22.4" stroke="#7cc4f6" stroke-width="1.4" fill="none" opacity="0.3"/>
<circle cx="90.6" cy="41.8" r="0.9" fill="#e8f6ff"/>
<circle cx="66" cy="58.2" r="1.1" fill="#9a9a9a"/>
<polygon points="21.30,77.70 34.50,66.00 77.00,81.40 64.50,96.10" fill="url(#gKb)"/>
<polygon points="25.00,77.30 35.00,68.50 73.50,82.30 64.00,93.00" fill="none" stroke="#6a6a6a" stroke-width="0.6" stroke-dasharray="1.2 0.9"/>
<path d="M27,75.6 L67,90 M29.4,73.4 L69.4,87.8 M31.8,71.2 L71.6,85.6 M34,69.2 L73.6,83.4" stroke="#777" stroke-width="0.7" stroke-dasharray="1.1 0.9" fill="none"/>
<polygon points="21.30,77.70 64.50,96.10 64.60,97.00 21.20,78.60" fill="#9a9a9a"/>
<path d="M84,83 C86,78 88.5,76 88,72.5" stroke="#8a8a8a" stroke-width="0.7" fill="none"/>
<ellipse cx="83.6" cy="88.7" rx="5.6" ry="6.4" transform="rotate(35 83.6 88.7)" fill="#1e1e1e"/>
<ellipse cx="82.6" cy="87.3" rx="3.2" ry="4.2" transform="rotate(35 82.6 87.3)" fill="#3c3c3c"/>
</g>
<g transform="translate(583.20,105.00)">
<polygon points="46.50,64.80 55.00,60.80 59.50,63.20 51.00,68.60" fill="#cfcfcf" stroke="#8e8e8e" stroke-width="0.5"/>
<polygon points="65.50,71.20 77.00,64.80 81.40,68.20 70.00,76.60" fill="#cfcfcf" stroke="#8e8e8e" stroke-width="0.5"/>
<path d="M40,66.5 C44,62 50,60 56,61.5 M74,75 C80,77 84,74 88,70" stroke="#9a9a9a" stroke-width="0.6" fill="none"/>
<polygon points="10.20,17.00 44.00,10.10 61.60,12.40 29.20,20.20" fill="#222"/>
<polygon points="10.20,17.00 44.00,10.10 61.60,12.40 29.20,20.20" fill="none" stroke="#6a6a6a" stroke-width="0.5"/>
<polygon points="29.20,20.20 61.60,12.40 61.60,50.00 29.20,67.80" fill="#121212"/>
<polygon points="32.40,25.80 47.60,21.00 47.60,52.40 32.40,61.20" fill="url(#gWin)"/>
<polygon points="32.40,25.80 47.60,21.00 47.60,33.00 32.40,44.00" fill="#9cc6f0" opacity="0.35"/>
<polygon points="10.20,17.00 29.20,20.20 29.20,67.80 10.40,59.00" fill="#0f0f0f"/>
<polygon points="10.20,17.00 12.40,17.40 12.40,45.20 10.20,44.40" fill="#a9a9a9"/>
<polygon points="27.00,19.90 29.20,20.20 29.20,50.00 27.00,49.00" fill="#c2c2c2"/>
<polygon points="12.40,18.60 27.00,21.00 27.00,22.20 12.40,19.80" fill="#8c8c8c"/>
<polygon points="12.40,24.90 27.00,27.30 27.00,28.50 12.40,26.10" fill="#8c8c8c"/>
<polygon points="12.40,31.20 27.00,33.60 27.00,34.80 12.40,32.40" fill="#8c8c8c"/>
<polygon points="12.40,37.50 27.00,39.90 27.00,41.10 12.40,38.70" fill="#8c8c8c"/>
<polygon points="12.40,43.80 27.00,46.20 27.00,47.40 12.40,45.00" fill="#8c8c8c"/>
<polygon points="15.40,47.00 22.20,49.40 22.20,62.80 15.40,59.80" fill="#8a8a8a"/>
<rect x="17.2" y="50.4" width="2.6" height="2.6" fill="#c6e64a"/>
<rect x="17.4" y="56.4" width="2.4" height="2.2" fill="#d8d8d8"/>
<polygon points="60.50,55.50 70.50,58.50 70.50,65.50 60.50,62.50" fill="#151515"/>
<polygon points="56.50,63.00 68.00,60.50 76.00,65.00 64.50,69.50" fill="#1c1c1c"/>
<polygon points="47.20,14.20 96.80,22.20 93.90,65.30 45.90,51.40" fill="#101010"/>
<polygon points="48.80,15.90 93.30,23.80 90.80,61.80 47.30,48.60" fill="url(#gScreen)"/>
<path d="M48,40.5 C58,46 68,44 74,41.5 C82,38.5 88,39.5 92.4,41.5 L90.8,61.8 L47.3,48.6 Z" fill="#49b2f4" opacity="0.33"/>
<path d="M52,17 C62,28 68,38 74,41.5 C80,45 86,48 91.8,48.5" stroke="#7cc4f6" stroke-width="0.7" fill="none" opacity="0.6"/>
<path d="M66,41 C72,34 78,27 84,22.4" stroke="#7cc4f6" stroke-width="1.4" fill="none" opacity="0.3"/>
<circle cx="90.6" cy="41.8" r="0.9" fill="#e8f6ff"/>
<circle cx="66" cy="58.2" r="1.1" fill="#9a9a9a"/>
<polygon points="21.30,77.70 34.50,66.00 77.00,81.40 64.50,96.10" fill="url(#gKb)"/>
<polygon points="25.00,77.30 35.00,68.50 73.50,82.30 64.00,93.00" fill="none" stroke="#6a6a6a" stroke-width="0.6" stroke-dasharray="1.2 0.9"/>
<path d="M27,75.6 L67,90 M29.4,73.4 L69.4,87.8 M31.8,71.2 L71.6,85.6 M34,69.2 L73.6,83.4" stroke="#777" stroke-width="0.7" stroke-dasharray="1.1 0.9" fill="none"/>
<polygon points="21.30,77.70 64.50,96.10 64.60,97.00 21.20,78.60" fill="#9a9a9a"/>
<path d="M84,83 C86,78 88.5,76 88,72.5" stroke="#8a8a8a" stroke-width="0.7" fill="none"/>
<ellipse cx="83.6" cy="88.7" rx="5.6" ry="6.4" transform="rotate(35 83.6 88.7)" fill="#1e1e1e"/>
<ellipse cx="82.6" cy="87.3" rx="3.2" ry="4.2" transform="rotate(35 82.6 87.3)" fill="#3c3c3c"/>
</g>
<g transform="translate(337.10,284.50)">
<polygon points="46.50,64.80 55.00,60.80 59.50,63.20 51.00,68.60" fill="#cfcfcf" stroke="#8e8e8e" stroke-width="0.5"/>
<polygon points="65.50,71.20 77.00,64.80 81.40,68.20 70.00,76.60" fill="#cfcfcf" stroke="#8e8e8e" stroke-width="0.5"/>
<path d="M40,66.5 C44,62 50,60 56,61.5 M74,75 C80,77 84,74 88,70" stroke="#9a9a9a" stroke-width="0.6" fill="none"/>
<polygon points="10.20,17.00 44.00,10.10 61.60,12.40 29.20,20.20" fill="#222"/>
<polygon points="10.20,17.00 44.00,10.10 61.60,12.40 29.20,20.20" fill="none" stroke="#6a6a6a" stroke-width="0.5"/>
<polygon points="29.20,20.20 61.60,12.40 61.60,50.00 29.20,67.80" fill="#121212"/>
<polygon points="32.40,25.80 47.60,21.00 47.60,52.40 32.40,61.20" fill="url(#gWin)"/>
<polygon points="32.40,25.80 47.60,21.00 47.60,33.00 32.40,44.00" fill="#9cc6f0" opacity="0.35"/>
<polygon points="10.20,17.00 29.20,20.20 29.20,67.80 10.40,59.00" fill="#0f0f0f"/>
<polygon points="10.20,17.00 12.40,17.40 12.40,45.20 10.20,44.40" fill="#a9a9a9"/>
<polygon points="27.00,19.90 29.20,20.20 29.20,50.00 27.00,49.00" fill="#c2c2c2"/>
<polygon points="12.40,18.60 27.00,21.00 27.00,22.20 12.40,19.80" fill="#8c8c8c"/>
<polygon points="12.40,24.90 27.00,27.30 27.00,28.50 12.40,26.10" fill="#8c8c8c"/>
<polygon points="12.40,31.20 27.00,33.60 27.00,34.80 12.40,32.40" fill="#8c8c8c"/>
<polygon points="12.40,37.50 27.00,39.90 27.00,41.10 12.40,38.70" fill="#8c8c8c"/>
<polygon points="12.40,43.80 27.00,46.20 27.00,47.40 12.40,45.00" fill="#8c8c8c"/>
<polygon points="15.40,47.00 22.20,49.40 22.20,62.80 15.40,59.80" fill="#8a8a8a"/>
<rect x="17.2" y="50.4" width="2.6" height="2.6" fill="#c6e64a"/>
<rect x="17.4" y="56.4" width="2.4" height="2.2" fill="#d8d8d8"/>
<polygon points="60.50,55.50 70.50,58.50 70.50,65.50 60.50,62.50" fill="#151515"/>
<polygon points="56.50,63.00 68.00,60.50 76.00,65.00 64.50,69.50" fill="#1c1c1c"/>
<polygon points="47.20,14.20 96.80,22.20 93.90,65.30 45.90,51.40" fill="#101010"/>
<polygon points="48.80,15.90 93.30,23.80 90.80,61.80 47.30,48.60" fill="url(#gScreen)"/>
<path d="M48,40.5 C58,46 68,44 74,41.5 C82,38.5 88,39.5 92.4,41.5 L90.8,61.8 L47.3,48.6 Z" fill="#49b2f4" opacity="0.33"/>
<path d="M52,17 C62,28 68,38 74,41.5 C80,45 86,48 91.8,48.5" stroke="#7cc4f6" stroke-width="0.7" fill="none" opacity="0.6"/>
<path d="M66,41 C72,34 78,27 84,22.4" stroke="#7cc4f6" stroke-width="1.4" fill="none" opacity="0.3"/>
<circle cx="90.6" cy="41.8" r="0.9" fill="#e8f6ff"/>
<circle cx="66" cy="58.2" r="1.1" fill="#9a9a9a"/>
<polygon points="21.30,77.70 34.50,66.00 77.00,81.40 64.50,96.10" fill="url(#gKb)"/>
<polygon points="25.00,77.30 35.00,68.50 73.50,82.30 64.00,93.00" fill="none" stroke="#6a6a6a" stroke-width="0.6" stroke-dasharray="1.2 0.9"/>
<path d="M27,75.6 L67,90 M29.4,73.4 L69.4,87.8 M31.8,71.2 L71.6,85.6 M34,69.2 L73.6,83.4" stroke="#777" stroke-width="0.7" stroke-dasharray="1.1 0.9" fill="none"/>
<polygon points="21.30,77.70 64.50,96.10 64.60,97.00 21.20,78.60" fill="#9a9a9a"/>
<path d="M84,83 C86,78 88.5,76 88,72.5" stroke="#8a8a8a" stroke-width="0.7" fill="none"/>
<ellipse cx="83.6" cy="88.7" rx="5.6" ry="6.4" transform="rotate(35 83.6 88.7)" fill="#1e1e1e"/>
<ellipse cx="82.6" cy="87.3" rx="3.2" ry="4.2" transform="rotate(35 82.6 87.3)" fill="#3c3c3c"/>
</g>
<g>
<path d="M550.00,278.67 L560.00,262.67 L620.00,264.40 Q629.07,264.93 628.80,272.67 L628.00,306.67 L620.00,312.93 L606.67,315.60 L551.33,308.93 Z" fill="url(#gPrBody)"/>
<polygon points="550.00,279.60 607.33,284.93 606.67,315.60 551.33,308.93" fill="#eceef2"/>
<path d="M550.93,277.73 L560.00,262.67 L618.67,264.40 Q625.33,264.93 625.33,268.00 L614.67,284.00 L552.67,280.40 Z" fill="#3b3e49"/>
<polygon points="563.33,264.40 614.00,266.67 608.67,272.40 560.00,270.00" fill="#14151a"/>
<polygon points="551.33,277.33 557.33,274.67 609.33,277.33 614.67,283.33 553.33,280.13" fill="#23252c"/>
<polygon points="546.00,269.33 596.00,272.00 594.93,274.80 552.27,276.67" fill="#e9ebf0" opacity="0.8" stroke="#b9bcc6" stroke-width="0.5"/>
<polygon points="556.00,282.00 606.67,285.47 606.00,298.27 556.53,294.80" fill="url(#gPrPanel)"/>
<polygon points="556.67,294.80 606.00,298.27 605.33,307.07 557.60,303.87" fill="#15161a"/>
<polygon points="547.33,316.13 562.00,304.67 598.67,306.80 606.67,315.33 598.67,322.80 548.00,319.33" fill="#f3f3f6" stroke="#b4b7c0" stroke-width="0.6"/>
<polygon points="554.67,314.00 564.67,305.73 597.33,307.60 600.67,313.73 596.00,318.00" fill="#fdfdfd" stroke="#cfd1d8" stroke-width="0.4"/>
<polygon points="567.33,316.40 574.00,315.07 576.27,319.07 569.60,320.67" fill="#d9dbe2" stroke="#a9acb6" stroke-width="0.5"/>
</g>
<polyline points="643.70,243.90 616.70,268.70" fill="none" stroke="#0c1a3e" stroke-width="2.0" stroke-linejoin="miter" stroke-linecap="butt"/>
<g>
<polygon points="368.00,443.40 454.80,443.40 464.20,454.40 359.60,454.40" fill="#3f5478"/>
<polygon points="368.00,443.40 454.80,443.40 456.00,445.00 366.80,445.00" fill="#4a6990" opacity="0.6"/>
<rect x="359.6" y="454.2" width="104.6" height="15.6" fill="url(#gComm)"/>
<rect x="359.6" y="469" width="104.6" height="1" fill="#14325c"/>
<rect x="367.10" y="457" width="23.7" height="10.4" fill="#b4b9bf"/>
<rect x="368.10" y="458.00" width="4.2" height="3.3" fill="#2b3440"/>
<rect x="373.80" y="458.00" width="4.2" height="3.3" fill="#2b3440"/>
<rect x="379.50" y="458.00" width="4.2" height="3.3" fill="#2b3440"/>
<rect x="385.20" y="458.00" width="4.2" height="3.3" fill="#2b3440"/>
<rect x="368.10" y="462.90" width="4.2" height="3.3" fill="#2b3440"/>
<rect x="373.80" y="462.90" width="4.2" height="3.3" fill="#2b3440"/>
<rect x="379.50" y="462.90" width="4.2" height="3.3" fill="#2b3440"/>
<rect x="385.20" y="462.90" width="4.2" height="3.3" fill="#2b3440"/>
<rect x="394.50" y="457" width="23.7" height="10.4" fill="#b4b9bf"/>
<rect x="395.50" y="458.00" width="4.2" height="3.3" fill="#2b3440"/>
<rect x="401.20" y="458.00" width="4.2" height="3.3" fill="#2b3440"/>
<rect x="406.90" y="458.00" width="4.2" height="3.3" fill="#2b3440"/>
<rect x="412.60" y="458.00" width="4.2" height="3.3" fill="#2b3440"/>
<rect x="395.50" y="462.90" width="4.2" height="3.3" fill="#2b3440"/>
<rect x="401.20" y="462.90" width="4.2" height="3.3" fill="#2b3440"/>
<rect x="406.90" y="462.90" width="4.2" height="3.3" fill="#2b3440"/>
<rect x="412.60" y="462.90" width="4.2" height="3.3" fill="#2b3440"/>
<path d="M453,457.6 h8.4" stroke="#e8eef6" stroke-width="1.6"/>
<path d="M436,458 h9" stroke="#9fb9d8" stroke-width="0.8"/>
<path d="M434,462.6 h14 M434,465.6 h22" stroke="#7fa2cc" stroke-width="0.6" stroke-dasharray="1.2 1"/>
<path d="M389,447.2 l8,3.4 8,-3.4 M401,447.2 l5,3.4 M409,447.2 l6,3.4 6,-3.4 M424,447.2 h8" stroke="#4d6c96" stroke-width="0.9" fill="none"/>
</g>
<g transform="translate(0.00,0)">
<path d="M208.5,507.5 Q209,506.2 210.5,506.2 L225.5,506.2 Q227,506.2 227.5,507.5 L232.2,512.8 L232.2,521 L203.2,521 L203.2,512.8 Z" fill="url(#gRedCap)"/>
<path d="M208.6,512.6 v7.6 M226.6,512.6 v7.6" stroke="#f08a70" stroke-width="0.6" opacity="0.7"/>
<path d="M211.5,509.6 h12 M211.5,511 h12" stroke="#8a0a04" stroke-width="0.5" opacity="0.6"/>
<rect x="203.3" y="512.3" width="29.1" height="1" fill="#9e1010" opacity="0.7"/>
<rect x="198.00" y="637.5" width="5.4" height="6.2" rx="1.2" fill="#e9e9e9" stroke="#b5b5b5" stroke-width="0.6"/>
<rect x="217.20" y="637.5" width="5.4" height="6.2" rx="1.2" fill="#e9e9e9" stroke="#b5b5b5" stroke-width="0.6"/>
<rect x="235.30" y="637.5" width="5.4" height="6.2" rx="1.2" fill="#e9e9e9" stroke="#b5b5b5" stroke-width="0.6"/>
<rect x="176.6" y="520.7" width="82.4" height="117" rx="1.6" fill="url(#gBox)" stroke="#c6cacc" stroke-width="0.7"/>
<rect x="188.2" y="532.6" width="58.9" height="73.4" fill="url(#gPanel)"/><rect x="188.2" y="605.6" width="58.9" height="0.8" fill="#f2f0e0" opacity="0.8"/>
<text x="193" y="543.2" font-size="7" font-weight="900" fill="#fff" style="font-family:'Liberation Serif','Noto Serif CJK SC',serif" textLength="48.4" lengthAdjust="spacingAndGlyphs">气体报警控制器</text>
<rect x="197.8" y="546.4" width="39.4" height="25.8" rx="0.8" fill="#2a62c2" stroke="#6fa6e6" stroke-width="0.5"/>
<rect x="198.9" y="547.9" width="16.1" height="10.5" fill="#cdeff0"/>
<rect x="215.8" y="547.9" width="16.1" height="10.5" fill="#f9dcdc"/>
<rect x="198.9" y="558.9" width="16.1" height="10.4" fill="#f9dab4"/>
<rect x="215.8" y="558.9" width="16.1" height="10.4" fill="#cbe2f8"/>
<rect x="232.3" y="547.9" width="4.2" height="21.4" fill="#5cd4ee"/>
<rect x="232.7" y="548.5" width="3.4" height="2.2" fill="#2a4a6a"/>
<text x="205.20" y="556.20" font-size="5.6" font-weight="700" fill="#0a0a0a" stroke="#0a0a0a" stroke-width="0.35" textLength="8" lengthAdjust="spacingAndGlyphs">0.06</text>
<text x="222.20" y="556.20" font-size="5.6" font-weight="700" fill="#e81010" stroke="#e81010" stroke-width="0.35" textLength="8" lengthAdjust="spacingAndGlyphs">20.8</text>
<text x="205.20" y="567.00" font-size="5.6" font-weight="700" fill="#0a0a0a" stroke="#0a0a0a" stroke-width="0.35" textLength="8" lengthAdjust="spacingAndGlyphs">0.32</text>
<text x="222.20" y="567.00" font-size="5.6" font-weight="700" fill="#e81010" stroke="#e81010" stroke-width="0.35" textLength="8" lengthAdjust="spacingAndGlyphs">32.0</text>
<rect x="199.60" y="548.40" width="4" height="1.5" rx="0.7" fill="#3aa83a" stroke="#d8d040" stroke-width="0.3"/>
<rect x="209.80" y="557.00" width="3.4" height="0.9" fill="#f2e020"/>
<rect x="201.80" y="551.60" width="1.6" height="4.6" fill="#e8f0e8" stroke="#8a9a8a" stroke-width="0.25"/>
<rect x="216.50" y="548.40" width="4" height="1.5" rx="0.7" fill="#3aa83a" stroke="#d8d040" stroke-width="0.3"/>
<rect x="226.70" y="557.00" width="3.4" height="0.9" fill="#f2e020"/>
<rect x="218.70" y="551.60" width="1.6" height="4.6" fill="#e8f0e8" stroke="#8a9a8a" stroke-width="0.25"/>
<rect x="199.60" y="559.40" width="4" height="1.5" rx="0.7" fill="#3aa83a" stroke="#d8d040" stroke-width="0.3"/>
<rect x="209.80" y="568.00" width="3.4" height="0.9" fill="#f2e020"/>
<rect x="201.80" y="562.60" width="1.6" height="4.6" fill="#e8f0e8" stroke="#8a9a8a" stroke-width="0.25"/>
<rect x="216.50" y="559.40" width="4" height="1.5" rx="0.7" fill="#3aa83a" stroke="#d8d040" stroke-width="0.3"/>
<rect x="226.70" y="568.00" width="3.4" height="0.9" fill="#f2e020"/>
<rect x="218.70" y="562.60" width="1.6" height="4.6" fill="#e8f0e8" stroke="#8a9a8a" stroke-width="0.25"/>
<rect x="199.70" y="552.00" width="1.3" height="4.4" fill="#3aa83a"/>
<rect x="216.60" y="552.00" width="1.3" height="4.4" fill="#d83030"/>
<rect x="199.70" y="563.00" width="1.3" height="4.4" fill="#3aa83a"/>
<rect x="216.60" y="563.00" width="1.3" height="4.4" fill="#d83030"/>
<path d="M198.4,573.2 h27" stroke="#c9d8f4" stroke-width="0.7" stroke-dasharray="1.4 0.6" opacity="0.8"/>
<rect x="202.80" y="584.8" width="6" height="5.6" rx="1.2" fill="#9fd8f6" stroke="#5aa8e8" stroke-width="0.5"/>
<rect x="204.40" y="585.9" width="2.8" height="2.6" rx="0.5" fill="#fff"/>
<rect x="211.00" y="584.8" width="6" height="5.6" rx="1.2" fill="#9fd8f6" stroke="#5aa8e8" stroke-width="0.5"/>
<rect x="212.60" y="585.9" width="2.8" height="2.6" rx="0.5" fill="#fff"/>
<rect x="219.10" y="584.8" width="6" height="5.6" rx="1.2" fill="#9fd8f6" stroke="#5aa8e8" stroke-width="0.5"/>
<rect x="220.70" y="585.9" width="2.8" height="2.6" rx="0.5" fill="#fff"/>
<rect x="227.10" y="584.8" width="6" height="5.6" rx="1.2" fill="#9fd8f6" stroke="#5aa8e8" stroke-width="0.5"/>
<rect x="228.70" y="585.9" width="2.8" height="2.6" rx="0.5" fill="#fff"/>
<circle cx="237.5" cy="620.2" r="6.4" fill="#1c1c1c"/>
<circle cx="237.5" cy="620.2" r="3.6" fill="#d9d9d9"/>
<circle cx="237.5" cy="620.2" r="1.5" fill="#555"/>
</g>
<g transform="translate(291.80,0)">
<path d="M208.5,507.5 Q209,506.2 210.5,506.2 L225.5,506.2 Q227,506.2 227.5,507.5 L232.2,512.8 L232.2,521 L203.2,521 L203.2,512.8 Z" fill="url(#gRedCap)"/>
<path d="M208.6,512.6 v7.6 M226.6,512.6 v7.6" stroke="#f08a70" stroke-width="0.6" opacity="0.7"/>
<path d="M211.5,509.6 h12 M211.5,511 h12" stroke="#8a0a04" stroke-width="0.5" opacity="0.6"/>
<rect x="203.3" y="512.3" width="29.1" height="1" fill="#9e1010" opacity="0.7"/>
<rect x="198.00" y="637.5" width="5.4" height="6.2" rx="1.2" fill="#e9e9e9" stroke="#b5b5b5" stroke-width="0.6"/>
<rect x="217.20" y="637.5" width="5.4" height="6.2" rx="1.2" fill="#e9e9e9" stroke="#b5b5b5" stroke-width="0.6"/>
<rect x="235.30" y="637.5" width="5.4" height="6.2" rx="1.2" fill="#e9e9e9" stroke="#b5b5b5" stroke-width="0.6"/>
<rect x="176.6" y="520.7" width="82.4" height="117" rx="1.6" fill="url(#gBox)" stroke="#c6cacc" stroke-width="0.7"/>
<rect x="188.2" y="532.6" width="58.9" height="73.4" fill="url(#gPanel)"/><rect x="188.2" y="605.6" width="58.9" height="0.8" fill="#f2f0e0" opacity="0.8"/>
<text x="193" y="543.2" font-size="7" font-weight="900" fill="#fff" style="font-family:'Liberation Serif','Noto Serif CJK SC',serif" textLength="48.4" lengthAdjust="spacingAndGlyphs">气体报警控制器</text>
<rect x="197.8" y="546.4" width="39.4" height="25.8" rx="0.8" fill="#2a62c2" stroke="#6fa6e6" stroke-width="0.5"/>
<rect x="198.9" y="547.9" width="16.1" height="10.5" fill="#cdeff0"/>
<rect x="215.8" y="547.9" width="16.1" height="10.5" fill="#f9dcdc"/>
<rect x="198.9" y="558.9" width="16.1" height="10.4" fill="#f9dab4"/>
<rect x="215.8" y="558.9" width="16.1" height="10.4" fill="#cbe2f8"/>
<rect x="232.3" y="547.9" width="4.2" height="21.4" fill="#5cd4ee"/>
<rect x="232.7" y="548.5" width="3.4" height="2.2" fill="#2a4a6a"/>
<text x="205.20" y="556.20" font-size="5.6" font-weight="700" fill="#0a0a0a" stroke="#0a0a0a" stroke-width="0.35" textLength="8" lengthAdjust="spacingAndGlyphs">0.06</text>
<text x="222.20" y="556.20" font-size="5.6" font-weight="700" fill="#e81010" stroke="#e81010" stroke-width="0.35" textLength="8" lengthAdjust="spacingAndGlyphs">20.8</text>
<text x="205.20" y="567.00" font-size="5.6" font-weight="700" fill="#0a0a0a" stroke="#0a0a0a" stroke-width="0.35" textLength="8" lengthAdjust="spacingAndGlyphs">0.32</text>
<text x="222.20" y="567.00" font-size="5.6" font-weight="700" fill="#e81010" stroke="#e81010" stroke-width="0.35" textLength="8" lengthAdjust="spacingAndGlyphs">32.0</text>
<rect x="199.60" y="548.40" width="4" height="1.5" rx="0.7" fill="#3aa83a" stroke="#d8d040" stroke-width="0.3"/>
<rect x="209.80" y="557.00" width="3.4" height="0.9" fill="#f2e020"/>
<rect x="201.80" y="551.60" width="1.6" height="4.6" fill="#e8f0e8" stroke="#8a9a8a" stroke-width="0.25"/>
<rect x="216.50" y="548.40" width="4" height="1.5" rx="0.7" fill="#3aa83a" stroke="#d8d040" stroke-width="0.3"/>
<rect x="226.70" y="557.00" width="3.4" height="0.9" fill="#f2e020"/>
<rect x="218.70" y="551.60" width="1.6" height="4.6" fill="#e8f0e8" stroke="#8a9a8a" stroke-width="0.25"/>
<rect x="199.60" y="559.40" width="4" height="1.5" rx="0.7" fill="#3aa83a" stroke="#d8d040" stroke-width="0.3"/>
<rect x="209.80" y="568.00" width="3.4" height="0.9" fill="#f2e020"/>
<rect x="201.80" y="562.60" width="1.6" height="4.6" fill="#e8f0e8" stroke="#8a9a8a" stroke-width="0.25"/>
<rect x="216.50" y="559.40" width="4" height="1.5" rx="0.7" fill="#3aa83a" stroke="#d8d040" stroke-width="0.3"/>
<rect x="226.70" y="568.00" width="3.4" height="0.9" fill="#f2e020"/>
<rect x="218.70" y="562.60" width="1.6" height="4.6" fill="#e8f0e8" stroke="#8a9a8a" stroke-width="0.25"/>
<rect x="199.70" y="552.00" width="1.3" height="4.4" fill="#3aa83a"/>
<rect x="216.60" y="552.00" width="1.3" height="4.4" fill="#d83030"/>
<rect x="199.70" y="563.00" width="1.3" height="4.4" fill="#3aa83a"/>
<rect x="216.60" y="563.00" width="1.3" height="4.4" fill="#d83030"/>
<path d="M198.4,573.2 h27" stroke="#c9d8f4" stroke-width="0.7" stroke-dasharray="1.4 0.6" opacity="0.8"/>
<rect x="202.80" y="584.8" width="6" height="5.6" rx="1.2" fill="#9fd8f6" stroke="#5aa8e8" stroke-width="0.5"/>
<rect x="204.40" y="585.9" width="2.8" height="2.6" rx="0.5" fill="#fff"/>
<rect x="211.00" y="584.8" width="6" height="5.6" rx="1.2" fill="#9fd8f6" stroke="#5aa8e8" stroke-width="0.5"/>
<rect x="212.60" y="585.9" width="2.8" height="2.6" rx="0.5" fill="#fff"/>
<rect x="219.10" y="584.8" width="6" height="5.6" rx="1.2" fill="#9fd8f6" stroke="#5aa8e8" stroke-width="0.5"/>
<rect x="220.70" y="585.9" width="2.8" height="2.6" rx="0.5" fill="#fff"/>
<rect x="227.10" y="584.8" width="6" height="5.6" rx="1.2" fill="#9fd8f6" stroke="#5aa8e8" stroke-width="0.5"/>
<rect x="228.70" y="585.9" width="2.8" height="2.6" rx="0.5" fill="#fff"/>
<circle cx="237.5" cy="620.2" r="6.4" fill="#1c1c1c"/>
<circle cx="237.5" cy="620.2" r="3.6" fill="#d9d9d9"/>
<circle cx="237.5" cy="620.2" r="1.5" fill="#555"/>
</g>
<g transform="translate(70.00,600.00)">
<rect x="29" y="64" width="13.6" height="16.6" rx="1.6" fill="url(#gMetalL)"/>
<path d="M29.6,71 h12.8 M29.6,73.5 h12.8 M29.6,76 h12.8 M29.6,78.5 h12.8" stroke="#b4b4b4" stroke-width="0.6"/>
<rect x="62.4" y="14.4" width="12.6" height="29" rx="1.6" fill="url(#gMetal)"/>
<path d="M62.4,17.6 L62.4,12.8 Q62.4,7.2 68.7,7.2 Q75,7.2 75,12.8 L75,17.6 Z" fill="url(#gRedDome)"/>
<path d="M62.6,11.6 h12.2 M62.6,13.6 h12.2 M62.6,15.6 h12.2" stroke="#8e0c0c" stroke-width="0.6" opacity="0.6"/>
<rect x="9.4" y="21.6" width="53" height="8.6" rx="2.5" fill="#ee6a12"/>
<rect x="8.2" y="22.6" width="3.2" height="6.6" rx="1" fill="#b9b4ae"/>
<rect x="12" y="22.4" width="48" height="2" rx="1" fill="#ff9a4a" opacity="0.7"/>
<circle cx="35.8" cy="16.6" r="4.1" fill="#f06a14"/>
<circle cx="35.8" cy="16.4" r="1.5" fill="#fff"/>
<circle cx="14.8" cy="52.8" r="4.1" fill="#ee6712"/>
<circle cx="13.9" cy="53" r="1.4" fill="#fff"/>
<circle cx="56.8" cy="52.4" r="4.1" fill="#ee6712"/>
<circle cx="57.6" cy="52.6" r="1.4" fill="#fff"/>
<circle cx="35.8" cy="42.6" r="23" fill="url(#gOrange)"/>
<circle cx="35.8" cy="42.6" r="18.6" fill="none" stroke="#d4520a" stroke-width="1.4" opacity="0.75"/>
<circle cx="35.8" cy="42.6" r="16.6" fill="none" stroke="#ffa050" stroke-width="1.2" opacity="0.8"/>
<circle cx="35.8" cy="42.8" r="14.2" fill="#f2cca8"/>
<circle cx="35.8" cy="42.8" r="12.5" fill="#dd7a2c"/>
<path d="M26.5,35.4 A11.8,11.8 0 0 1 45.1,35.4" fill="none" stroke="#f6b070" stroke-width="1.6"/>
<rect x="27.4" y="36.6" width="16.8" height="12.4" rx="0.8" fill="#0e0f12"/>
<path d="M30.5,41 h6 M36,43.5 l3,-2 3,2.5" stroke="#c9c04a" stroke-width="0.8" fill="none" opacity="0.9"/>
<rect x="28.2" y="44.6" width="4.2" height="2.4" fill="#3da33d"/>
<rect x="28.2" y="47" width="3.2" height="1.4" fill="#7a3fb0"/>
<circle cx="35.6" cy="47.6" r="1.2" fill="#bfe8c0"/>
<circle cx="22.2" cy="42.4" r="0.9" fill="#3a2a1a"/><circle cx="48.8" cy="42.4" r="0.9" fill="#3a2a1a"/>
<circle cx="29.80" cy="53.6" r="1.25" fill="#4a4038"/>
<circle cx="35.30" cy="53.6" r="1.25" fill="#4a4038"/>
<circle cx="40.70" cy="53.6" r="1.25" fill="#4a4038"/>
</g>
<g transform="translate(130.00,701.00)">
<rect x="29" y="64" width="13.6" height="16.6" rx="1.6" fill="url(#gMetalL)"/>
<path d="M29.6,71 h12.8 M29.6,73.5 h12.8 M29.6,76 h12.8 M29.6,78.5 h12.8" stroke="#b4b4b4" stroke-width="0.6"/>
<rect x="62.4" y="14.4" width="12.6" height="29" rx="1.6" fill="url(#gMetal)"/>
<path d="M62.4,17.6 L62.4,12.8 Q62.4,7.2 68.7,7.2 Q75,7.2 75,12.8 L75,17.6 Z" fill="url(#gRedDome)"/>
<path d="M62.6,11.6 h12.2 M62.6,13.6 h12.2 M62.6,15.6 h12.2" stroke="#8e0c0c" stroke-width="0.6" opacity="0.6"/>
<rect x="9.4" y="21.6" width="53" height="8.6" rx="2.5" fill="#ee6a12"/>
<rect x="8.2" y="22.6" width="3.2" height="6.6" rx="1" fill="#b9b4ae"/>
<rect x="12" y="22.4" width="48" height="2" rx="1" fill="#ff9a4a" opacity="0.7"/>
<circle cx="35.8" cy="16.6" r="4.1" fill="#f06a14"/>
<circle cx="35.8" cy="16.4" r="1.5" fill="#fff"/>
<circle cx="14.8" cy="52.8" r="4.1" fill="#ee6712"/>
<circle cx="13.9" cy="53" r="1.4" fill="#fff"/>
<circle cx="56.8" cy="52.4" r="4.1" fill="#ee6712"/>
<circle cx="57.6" cy="52.6" r="1.4" fill="#fff"/>
<circle cx="35.8" cy="42.6" r="23" fill="url(#gOrange)"/>
<circle cx="35.8" cy="42.6" r="18.6" fill="none" stroke="#d4520a" stroke-width="1.4" opacity="0.75"/>
<circle cx="35.8" cy="42.6" r="16.6" fill="none" stroke="#ffa050" stroke-width="1.2" opacity="0.8"/>
<circle cx="35.8" cy="42.8" r="14.2" fill="#f2cca8"/>
<circle cx="35.8" cy="42.8" r="12.5" fill="#dd7a2c"/>
<path d="M26.5,35.4 A11.8,11.8 0 0 1 45.1,35.4" fill="none" stroke="#f6b070" stroke-width="1.6"/>
<rect x="27.4" y="36.6" width="16.8" height="12.4" rx="0.8" fill="#0e0f12"/>
<path d="M30.5,41 h6 M36,43.5 l3,-2 3,2.5" stroke="#c9c04a" stroke-width="0.8" fill="none" opacity="0.9"/>
<rect x="28.2" y="44.6" width="4.2" height="2.4" fill="#3da33d"/>
<rect x="28.2" y="47" width="3.2" height="1.4" fill="#7a3fb0"/>
<circle cx="35.6" cy="47.6" r="1.2" fill="#bfe8c0"/>
<circle cx="22.2" cy="42.4" r="0.9" fill="#3a2a1a"/><circle cx="48.8" cy="42.4" r="0.9" fill="#3a2a1a"/>
<circle cx="29.80" cy="53.6" r="1.25" fill="#4a4038"/>
<circle cx="35.30" cy="53.6" r="1.25" fill="#4a4038"/>
<circle cx="40.70" cy="53.6" r="1.25" fill="#4a4038"/>
</g>
<g transform="translate(245.00,653.60)">
<rect x="29" y="64" width="13.6" height="16.6" rx="1.6" fill="url(#gMetalL)"/>
<path d="M29.6,71 h12.8 M29.6,73.5 h12.8 M29.6,76 h12.8 M29.6,78.5 h12.8" stroke="#b4b4b4" stroke-width="0.6"/>
<rect x="62.4" y="14.4" width="12.6" height="29" rx="1.6" fill="url(#gMetal)"/>
<path d="M62.4,17.6 L62.4,12.8 Q62.4,7.2 68.7,7.2 Q75,7.2 75,12.8 L75,17.6 Z" fill="url(#gRedDome)"/>
<path d="M62.6,11.6 h12.2 M62.6,13.6 h12.2 M62.6,15.6 h12.2" stroke="#8e0c0c" stroke-width="0.6" opacity="0.6"/>
<rect x="9.4" y="21.6" width="53" height="8.6" rx="2.5" fill="#ee6a12"/>
<rect x="8.2" y="22.6" width="3.2" height="6.6" rx="1" fill="#b9b4ae"/>
<rect x="12" y="22.4" width="48" height="2" rx="1" fill="#ff9a4a" opacity="0.7"/>
<circle cx="35.8" cy="16.6" r="4.1" fill="#f06a14"/>
<circle cx="35.8" cy="16.4" r="1.5" fill="#fff"/>
<circle cx="14.8" cy="52.8" r="4.1" fill="#ee6712"/>
<circle cx="13.9" cy="53" r="1.4" fill="#fff"/>
<circle cx="56.8" cy="52.4" r="4.1" fill="#ee6712"/>
<circle cx="57.6" cy="52.6" r="1.4" fill="#fff"/>
<circle cx="35.8" cy="42.6" r="23" fill="url(#gOrange)"/>
<circle cx="35.8" cy="42.6" r="18.6" fill="none" stroke="#d4520a" stroke-width="1.4" opacity="0.75"/>
<circle cx="35.8" cy="42.6" r="16.6" fill="none" stroke="#ffa050" stroke-width="1.2" opacity="0.8"/>
<circle cx="35.8" cy="42.8" r="14.2" fill="#f2cca8"/>
<circle cx="35.8" cy="42.8" r="12.5" fill="#dd7a2c"/>
<path d="M26.5,35.4 A11.8,11.8 0 0 1 45.1,35.4" fill="none" stroke="#f6b070" stroke-width="1.6"/>
<rect x="27.4" y="36.6" width="16.8" height="12.4" rx="0.8" fill="#0e0f12"/>
<path d="M30.5,41 h6 M36,43.5 l3,-2 3,2.5" stroke="#c9c04a" stroke-width="0.8" fill="none" opacity="0.9"/>
<rect x="28.2" y="44.6" width="4.2" height="2.4" fill="#3da33d"/>
<rect x="28.2" y="47" width="3.2" height="1.4" fill="#7a3fb0"/>
<circle cx="35.6" cy="47.6" r="1.2" fill="#bfe8c0"/>
<circle cx="22.2" cy="42.4" r="0.9" fill="#3a2a1a"/><circle cx="48.8" cy="42.4" r="0.9" fill="#3a2a1a"/>
<circle cx="29.80" cy="53.6" r="1.25" fill="#4a4038"/>
<circle cx="35.30" cy="53.6" r="1.25" fill="#4a4038"/>
<circle cx="40.70" cy="53.6" r="1.25" fill="#4a4038"/>
</g>
<g transform="translate(379.50,637.60)">
<rect x="29" y="64" width="13.6" height="16.6" rx="1.6" fill="url(#gMetalL)"/>
<path d="M29.6,71 h12.8 M29.6,73.5 h12.8 M29.6,76 h12.8 M29.6,78.5 h12.8" stroke="#b4b4b4" stroke-width="0.6"/>
<rect x="62.4" y="14.4" width="12.6" height="29" rx="1.6" fill="url(#gMetal)"/>
<path d="M62.4,17.6 L62.4,12.8 Q62.4,7.2 68.7,7.2 Q75,7.2 75,12.8 L75,17.6 Z" fill="url(#gRedDome)"/>
<path d="M62.6,11.6 h12.2 M62.6,13.6 h12.2 M62.6,15.6 h12.2" stroke="#8e0c0c" stroke-width="0.6" opacity="0.6"/>
<rect x="9.4" y="21.6" width="53" height="8.6" rx="2.5" fill="#ee6a12"/>
<rect x="8.2" y="22.6" width="3.2" height="6.6" rx="1" fill="#b9b4ae"/>
<rect x="12" y="22.4" width="48" height="2" rx="1" fill="#ff9a4a" opacity="0.7"/>
<circle cx="35.8" cy="16.6" r="4.1" fill="#f06a14"/>
<circle cx="35.8" cy="16.4" r="1.5" fill="#fff"/>
<circle cx="14.8" cy="52.8" r="4.1" fill="#ee6712"/>
<circle cx="13.9" cy="53" r="1.4" fill="#fff"/>
<circle cx="56.8" cy="52.4" r="4.1" fill="#ee6712"/>
<circle cx="57.6" cy="52.6" r="1.4" fill="#fff"/>
<circle cx="35.8" cy="42.6" r="23" fill="url(#gOrange)"/>
<circle cx="35.8" cy="42.6" r="18.6" fill="none" stroke="#d4520a" stroke-width="1.4" opacity="0.75"/>
<circle cx="35.8" cy="42.6" r="16.6" fill="none" stroke="#ffa050" stroke-width="1.2" opacity="0.8"/>
<circle cx="35.8" cy="42.8" r="14.2" fill="#f2cca8"/>
<circle cx="35.8" cy="42.8" r="12.5" fill="#dd7a2c"/>
<path d="M26.5,35.4 A11.8,11.8 0 0 1 45.1,35.4" fill="none" stroke="#f6b070" stroke-width="1.6"/>
<rect x="27.4" y="36.6" width="16.8" height="12.4" rx="0.8" fill="#0e0f12"/>
<path d="M30.5,41 h6 M36,43.5 l3,-2 3,2.5" stroke="#c9c04a" stroke-width="0.8" fill="none" opacity="0.9"/>
<rect x="28.2" y="44.6" width="4.2" height="2.4" fill="#3da33d"/>
<rect x="28.2" y="47" width="3.2" height="1.4" fill="#7a3fb0"/>
<circle cx="35.6" cy="47.6" r="1.2" fill="#bfe8c0"/>
<circle cx="22.2" cy="42.4" r="0.9" fill="#3a2a1a"/><circle cx="48.8" cy="42.4" r="0.9" fill="#3a2a1a"/>
<circle cx="29.80" cy="53.6" r="1.25" fill="#4a4038"/>
<circle cx="35.30" cy="53.6" r="1.25" fill="#4a4038"/>
<circle cx="40.70" cy="53.6" r="1.25" fill="#4a4038"/>
</g>
<g transform="translate(520.60,674.00)">
<rect x="29" y="64" width="13.6" height="16.6" rx="1.6" fill="url(#gMetalL)"/>
<path d="M29.6,71 h12.8 M29.6,73.5 h12.8 M29.6,76 h12.8 M29.6,78.5 h12.8" stroke="#b4b4b4" stroke-width="0.6"/>
<rect x="62.4" y="14.4" width="12.6" height="29" rx="1.6" fill="url(#gMetal)"/>
<path d="M62.4,17.6 L62.4,12.8 Q62.4,7.2 68.7,7.2 Q75,7.2 75,12.8 L75,17.6 Z" fill="url(#gRedDome)"/>
<path d="M62.6,11.6 h12.2 M62.6,13.6 h12.2 M62.6,15.6 h12.2" stroke="#8e0c0c" stroke-width="0.6" opacity="0.6"/>
<rect x="9.4" y="21.6" width="53" height="8.6" rx="2.5" fill="#ee6a12"/>
<rect x="8.2" y="22.6" width="3.2" height="6.6" rx="1" fill="#b9b4ae"/>
<rect x="12" y="22.4" width="48" height="2" rx="1" fill="#ff9a4a" opacity="0.7"/>
<circle cx="35.8" cy="16.6" r="4.1" fill="#f06a14"/>
<circle cx="35.8" cy="16.4" r="1.5" fill="#fff"/>
<circle cx="14.8" cy="52.8" r="4.1" fill="#ee6712"/>
<circle cx="13.9" cy="53" r="1.4" fill="#fff"/>
<circle cx="56.8" cy="52.4" r="4.1" fill="#ee6712"/>
<circle cx="57.6" cy="52.6" r="1.4" fill="#fff"/>
<circle cx="35.8" cy="42.6" r="23" fill="url(#gOrange)"/>
<circle cx="35.8" cy="42.6" r="18.6" fill="none" stroke="#d4520a" stroke-width="1.4" opacity="0.75"/>
<circle cx="35.8" cy="42.6" r="16.6" fill="none" stroke="#ffa050" stroke-width="1.2" opacity="0.8"/>
<circle cx="35.8" cy="42.8" r="14.2" fill="#f2cca8"/>
<circle cx="35.8" cy="42.8" r="12.5" fill="#dd7a2c"/>
<path d="M26.5,35.4 A11.8,11.8 0 0 1 45.1,35.4" fill="none" stroke="#f6b070" stroke-width="1.6"/>
<rect x="27.4" y="36.6" width="16.8" height="12.4" rx="0.8" fill="#0e0f12"/>
<path d="M30.5,41 h6 M36,43.5 l3,-2 3,2.5" stroke="#c9c04a" stroke-width="0.8" fill="none" opacity="0.9"/>
<rect x="28.2" y="44.6" width="4.2" height="2.4" fill="#3da33d"/>
<rect x="28.2" y="47" width="3.2" height="1.4" fill="#7a3fb0"/>
<circle cx="35.6" cy="47.6" r="1.2" fill="#bfe8c0"/>
<circle cx="22.2" cy="42.4" r="0.9" fill="#3a2a1a"/><circle cx="48.8" cy="42.4" r="0.9" fill="#3a2a1a"/>
<circle cx="29.80" cy="53.6" r="1.25" fill="#4a4038"/>
<circle cx="35.30" cy="53.6" r="1.25" fill="#4a4038"/>
<circle cx="40.70" cy="53.6" r="1.25" fill="#4a4038"/>
</g>
<g transform="translate(602.50,586.40)">
<rect x="29" y="64" width="13.6" height="16.6" rx="1.6" fill="url(#gMetalL)"/>
<path d="M29.6,71 h12.8 M29.6,73.5 h12.8 M29.6,76 h12.8 M29.6,78.5 h12.8" stroke="#b4b4b4" stroke-width="0.6"/>
<rect x="62.4" y="14.4" width="12.6" height="29" rx="1.6" fill="url(#gMetal)"/>
<path d="M62.4,17.6 L62.4,12.8 Q62.4,7.2 68.7,7.2 Q75,7.2 75,12.8 L75,17.6 Z" fill="url(#gRedDome)"/>
<path d="M62.6,11.6 h12.2 M62.6,13.6 h12.2 M62.6,15.6 h12.2" stroke="#8e0c0c" stroke-width="0.6" opacity="0.6"/>
<rect x="9.4" y="21.6" width="53" height="8.6" rx="2.5" fill="#ee6a12"/>
<rect x="8.2" y="22.6" width="3.2" height="6.6" rx="1" fill="#b9b4ae"/>
<rect x="12" y="22.4" width="48" height="2" rx="1" fill="#ff9a4a" opacity="0.7"/>
<circle cx="35.8" cy="16.6" r="4.1" fill="#f06a14"/>
<circle cx="35.8" cy="16.4" r="1.5" fill="#fff"/>
<circle cx="14.8" cy="52.8" r="4.1" fill="#ee6712"/>
<circle cx="13.9" cy="53" r="1.4" fill="#fff"/>
<circle cx="56.8" cy="52.4" r="4.1" fill="#ee6712"/>
<circle cx="57.6" cy="52.6" r="1.4" fill="#fff"/>
<circle cx="35.8" cy="42.6" r="23" fill="url(#gOrange)"/>
<circle cx="35.8" cy="42.6" r="18.6" fill="none" stroke="#d4520a" stroke-width="1.4" opacity="0.75"/>
<circle cx="35.8" cy="42.6" r="16.6" fill="none" stroke="#ffa050" stroke-width="1.2" opacity="0.8"/>
<circle cx="35.8" cy="42.8" r="14.2" fill="#f2cca8"/>
<circle cx="35.8" cy="42.8" r="12.5" fill="#dd7a2c"/>
<path d="M26.5,35.4 A11.8,11.8 0 0 1 45.1,35.4" fill="none" stroke="#f6b070" stroke-width="1.6"/>
<rect x="27.4" y="36.6" width="16.8" height="12.4" rx="0.8" fill="#0e0f12"/>
<path d="M30.5,41 h6 M36,43.5 l3,-2 3,2.5" stroke="#c9c04a" stroke-width="0.8" fill="none" opacity="0.9"/>
<rect x="28.2" y="44.6" width="4.2" height="2.4" fill="#3da33d"/>
<rect x="28.2" y="47" width="3.2" height="1.4" fill="#7a3fb0"/>
<circle cx="35.6" cy="47.6" r="1.2" fill="#bfe8c0"/>
<circle cx="22.2" cy="42.4" r="0.9" fill="#3a2a1a"/><circle cx="48.8" cy="42.4" r="0.9" fill="#3a2a1a"/>
<circle cx="29.80" cy="53.6" r="1.25" fill="#4a4038"/>
<circle cx="35.30" cy="53.6" r="1.25" fill="#4a4038"/>
<circle cx="40.70" cy="53.6" r="1.25" fill="#4a4038"/>
</g>
<text class="lb" id="lb0" x="118.90" y="157.50">企业局域网</text>
<text class="lb" id="lb1" x="231.90" y="202.10">服务器</text>
<text class="lb" id="lb2" x="347.40" y="209.10">终端<tspan font-size="17.5" dx="-0.6">1</tspan></text>
<text class="lb" id="lb3" x="466.50" y="209.10">终端<tspan font-size="17.5" dx="-0.6">2</tspan></text>
<text class="lb" id="lb4" x="571.10" y="209.10">终端<tspan font-size="17.5" dx="-0.6">3</tspan></text>
<text class="lb" id="lb5" x="554.50" y="342.10">打印机</text>
<text class="lb" id="lb6" x="385.00" y="394.90">图形工作站</text>
<text class="lb" id="lb7" x="470.00" y="463.05">通信接口装置</text>
<text class="lb" id="lb8" x="266.50" y="554.40">采集器<tspan font-size="17.5" dx="-0.6">1</tspan></text>
<text class="lb" id="lb9" x="553.90" y="554.40">采集器<tspan font-size="17.5" dx="-0.6">n</tspan></text>
<text class="lb" id="lb10" x="44.50" y="699.20">甲烷传感器</text>
<text class="lb" id="lb11" x="125.30" y="795.50">温度传感器</text>
<text class="lb" id="lb12" x="242.40" y="749.30">湿度传感器</text>
<text class="lb" id="lb13" x="385.40" y="733.10">甲烷传感器</text>
<text class="lb" id="lb14" x="519.20" y="770.10">湿度传感器</text>
<text class="lb" id="lb15" x="609.90" y="684.50">温度传感器</text>
<text class="lbl-en" id="lb16" x="49.70" y="432.50" font-size="17.2" fill="#0a0a0a" letter-spacing="0.35">Internet</text>
<path d="M0,809.6 Q2.2,810.2 3.8,812 L0,812 Z" fill="#55a3ee"/>
<path d="M750,809.6 Q747.8,810.2 746.2,812 L750,812 Z" fill="#55a3ee"/>
<rect x="486" y="811.4" width="34" height="0.6" fill="#9ccaf5"/>
</svg>
</body>
</html>
